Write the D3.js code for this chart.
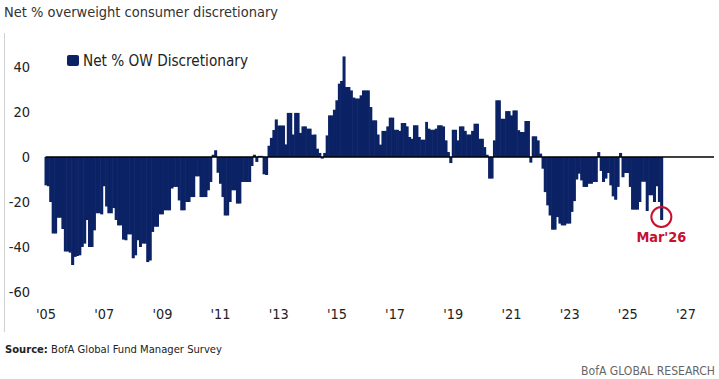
<!DOCTYPE html>
<html>
<head>
<meta charset="utf-8">
<script src="https://cdn.jsdelivr.net/npm/d3@7"></script>
<style>
  html, body { margin: 0; padding: 0; background: #fff; }
  svg { display: block; }
</style>
</head>
<body>
<svg id="chart" width="719" height="379"></svg>
<script>
// ---- Data: Net % overweight consumer discretionary (monthly, Jan 2005 - Mar 2026)
const startYear = 2005;
const v2005 = [-12.6,-13,-20,-34,-34,-27,-27,-32,-42,-42,-42.5,-48];
const v2006 = [-44.4,-44,-43.7,-40,-38.5,-28,-40,-40,-32.6,-25,-25,-25.5];
const v2007 = [-13,-22,-25,-25,-22.7,-28,-30.4,-30.4,-36.7,-37,-34.4,-34.4];
const v2008 = [-45,-43.7,-37,-40,-38.5,-38.5,-46.7,-46,-33.3,-31,-31,-25.5];
const v2009 = [-25.5,-23.7,-23.7,-23.7,-14,-13.3,-13.3,-19.3,-23.7,-23.7,-20,-20];
const v2010 = [-17.8,-17.8,-8.6,-8.6,-17.8,-17.8,-17.8,-14.8,-11.1,1,3,-7];
const v2011 = [-11.9,-17.8,-26,-26,-20,-14.8,-14.8,-20.7,-20.7,-11.1,-11.1,-11.1];
const v2012 = [-11.1,-4,1,-2.2,0.5,0.5,-7.7,-8,5,8.5,12,16.7];
const v2013 = [14,14,14,5.6,19.6,19.6,10,19.6,19.6,10.7,13.6,13.6];
const v2014 = [12.6,12.6,9.9,10,3.7,1.8,-0.7,1.8,9.6,18.5,18.5,21];
const v2015 = [25.2,32.6,33.8,44.7,31.1,31.1,29.6,26.4,26,26,27.4,29.6];
const v2016 = [29.6,29.6,22.2,16.3,16.3,10,5.5,11.6,11.6,13.6,17.5,17.5];
const v2017 = [12.1,12.1,11.6,15.1,15.1,13.6,8.9,8.1,14.1,14.1,8.9,7.7];
const v2018 = [7.7,15.6,12.6,12.1,12.1,12.6,14.1,14.1,13.6,7.4,2.2,-2.7];
const v2019 = [12.1,12.1,7.4,13.6,13.6,11.6,10,10,11.6,14.8,14.8,8.1];
const v2020 = [8.1,4.4,1,-9.6,-9.6,7.4,25.2,25.2,17,17,20.4,20.4];
const v2021 = [18.5,20.7,20.7,11.9,11.1,11.1,16,16,-2.5,9.2,9.2,7.4];
const v2022 = [1.5,-5.2,-15.6,-21.5,-26,-32.3,-32.3,-26.7,-29.6,-30.4,-30.4,-29.6];
const v2023 = [-29.6,-24.4,-19.6,-10,-7.4,-10.4,-13.3,-13.3,-11.9,-11.9,-11.1,-11.1];
const v2024 = [2.2,-6.2,-11.1,-9.6,-7.1,-12.6,-17.5,-19,-13.3,1.8,-9,-7.1];
const v2025 = [-7.1,-13.3,-23.4,-23.4,-23.4,-20,-11,-11,-24,-17,-17,-20];
const v2026 = [-13,-20,-28];

const yTicks = [40, 20, 0, -20, -40, -60];
const xTickYears = [2005,2007,2009,2011,2013,2015,2017,2019,2021,2023,2025,2027];
const xTickLabels = ["'05","'07","'09","'11","'13","'15","'17","'19","'21","'23","'25","'27"];
const seriesName = "Net % OW Discretionary";
const titleText = "Net % overweight consumer discretionary";
const sourceLabel = "Source:";
const sourceText = " BofA Global Fund Manager Survey";
const brandText = "BofA GLOBAL RESEARCH";
const calloutText = "Mar'26";

const values = [].concat(v2005,v2006,v2007,v2008,v2009,v2010,v2011,v2012,v2013,v2014,
  v2015,v2016,v2017,v2018,v2019,v2020,v2021,v2022,v2023,v2024,v2025,v2026);
const data = values.map((v, i) => ({ date: new Date(startYear, i, 1), next: new Date(startYear, i + 1, 1), value: v }));

// ---- Layout
const NAVY = "#0b2265";
const RED = "#c8102e";
const FONT = "'Liberation Sans Narrow','DejaVu Sans Condensed',Lato,sans-serif";

const svg = d3.select("#chart");
const x = d3.scaleTime().domain([new Date(2005,0,1), new Date(2027,0,1)]).range([44.5, 684.5]);
const y = d3.scaleLinear().domain([-60, 40]).range([292, 67]);

function fit(sel, target) {
  const node = sel.node();
  const w = node.getComputedTextLength();
  const fs = parseFloat(sel.attr("font-size"));
  if (w > 0) sel.attr("font-size", (fs * target / w).toFixed(2));
  return parseFloat(sel.attr("font-size"));
}

// left gray rule
svg.append("line").attr("x1", 4.5).attr("x2", 4.5).attr("y1", 33).attr("y2", 332)
  .attr("stroke", "#d0d0d0").attr("stroke-width", 1);

// title
const title = svg.append("text").attr("x", 4).attr("y", 17).attr("font-family", FONT)
  .attr("font-size", 16.5).attr("fill", "#333").text(titleText);
fit(title, 274);

// bars
svg.append("g").selectAll("rect").data(data).join("rect")
  .attr("x", d => x(d.date))
  .attr("width", d => x(d.next) - x(d.date) + 0.6)
  .attr("y", d => y(Math.max(0, d.value)))
  .attr("height", d => Math.abs(y(d.value) - y(0)))
  .attr("fill", NAVY);

// zero line
svg.append("line").attr("x1", x(new Date(2005,0,1)) + 1).attr("x2", 714)
  .attr("y1", y(0)).attr("y2", y(0)).attr("stroke", "#000").attr("stroke-width", 1.4);

// y labels
const yl = svg.append("g").selectAll("text").data(yTicks).join("text")
  .attr("x", 30).attr("y", d => y(d)).attr("dy", "0.36em")
  .attr("text-anchor", "end").attr("font-family", FONT).attr("font-size", 15)
  .attr("fill", "#222").text(d => d);
const yfs = fit(d3.select(yl.nodes()[0]), 16.6);
yl.attr("font-size", yfs);

// x labels
const xl = svg.append("g").selectAll("text").data(xTickYears).join("text")
  .attr("x", d => x(new Date(d,0,1)) + 1.5).attr("y", 319)
  .attr("text-anchor", "middle").attr("font-family", FONT).attr("font-size", 15)
  .attr("fill", "#222").text((d, i) => xTickLabels[i]);
const xfs = fit(d3.select(xl.nodes()[0]), 20);
xl.attr("font-size", xfs);

// legend
svg.append("rect").attr("x", 67).attr("y", 55).attr("width", 12).attr("height", 11)
  .attr("rx", 2).attr("fill", NAVY);
const lt = svg.append("text").attr("x", 83).attr("y", 66).attr("font-family", FONT)
  .attr("font-size", 16).attr("fill", "#222").text(seriesName);
fit(lt, 165);

// callout
const last = data[data.length - 1];
const cx = (x(last.date) + x(last.next)) / 2;
svg.append("circle").attr("cx", cx).attr("cy", y(last.value) - 3).attr("r", 10)
  .attr("fill", "none").attr("stroke", RED).attr("stroke-width", 2);
const ct = svg.append("text").attr("x", cx).attr("y", 242).attr("text-anchor", "middle")
  .attr("font-family", FONT).attr("font-weight", "bold").attr("font-size", 15)
  .attr("fill", RED).text(calloutText);
fit(ct, 50);

// source
const src = svg.append("text").attr("x", 5).attr("y", 353).attr("font-family", FONT)
  .attr("font-size", 13).attr("fill", "#222");
src.append("tspan").attr("font-weight", "bold").text(sourceLabel);
src.append("tspan").text(sourceText);
{
  const w = src.node().getComputedTextLength();
  src.attr("font-size", (13 * 217 / w).toFixed(2));
}

// brand
const br = svg.append("text").attr("x", 715).attr("y", 375).attr("text-anchor", "end")
  .attr("font-family", FONT).attr("font-size", 13).attr("fill", "#666").text(brandText);
fit(br, 134);
</script>
</body>
</html>
